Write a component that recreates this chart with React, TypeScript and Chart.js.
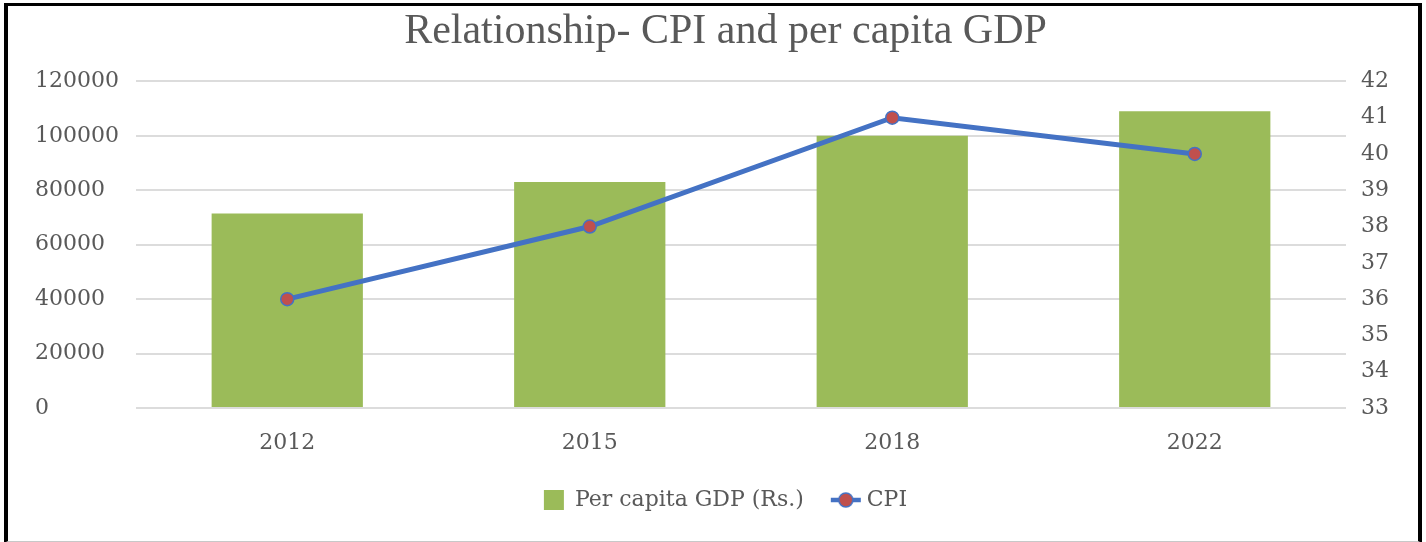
import React, { useEffect, useRef } from "react";
import { Chart, registerables } from "chart.js";

Chart.register(...registerables);

const categories = ["2012", "2015", "2018", "2022"];
const gdpValues = [71500, 83000, 100000, 109000];
const cpiValues = [36, 38, 41, 40];
const gdpAxis = { min: 0, max: 120000, step: 20000 };
const cpiAxis = { min: 33, max: 42, step: 1 };

const titleText = "Relationship- CPI and per capita GDP";
const gdpLabel = "Per capita GDP (Rs.)";
const cpiLabel = "CPI";

const TEXT = "#595959";
const GRID = "#dcdcdc";
const BAR = "#9BBB59";
const LINE = "#4472C4";
const POINT = "#C0504D";
const TICK_FONT = { family: "'DejaVu Serif', serif", size: 22 };

function makeLineMarker(): HTMLCanvasElement {
  const c = document.createElement("canvas");
  c.width = 32;
  c.height = 18;
  const ctx = c.getContext("2d")!;
  ctx.strokeStyle = LINE;
  ctx.lineWidth = 4.5;
  ctx.beginPath();
  ctx.moveTo(1, 9);
  ctx.lineTo(31, 9);
  ctx.stroke();
  ctx.beginPath();
  ctx.arc(16, 9, 7, 0, Math.PI * 2);
  ctx.fillStyle = POINT;
  ctx.fill();
  ctx.lineWidth = 1.5;
  ctx.strokeStyle = LINE;
  ctx.stroke();
  return c;
}

export default function App() {
  const ref = useRef<HTMLCanvasElement | null>(null);

  useEffect(() => {
    document.body.style.margin = "0";
    const canvas = ref.current!;
    const marker = makeLineMarker();
    const chart = new Chart(canvas, {
      data: {
        labels: categories,
        datasets: [
          {
            type: "bar",
            label: gdpLabel,
            data: gdpValues,
            backgroundColor: BAR,
            borderWidth: 0,
            barPercentage: 0.5,
            categoryPercentage: 1.0,
            yAxisID: "y",
            order: 2,
          },
          {
            type: "line",
            label: cpiLabel,
            data: cpiValues,
            borderColor: LINE,
            borderWidth: 5,
            pointRadius: 6.5,
            pointBackgroundColor: POINT,
            pointBorderColor: LINE,
            pointBorderWidth: 1.5,
            tension: 0,
            yAxisID: "y1",
            order: 1,
          },
        ],
      },
      options: {
        responsive: false,
        animation: false,
        layout: { padding: { left: 35, right: 10, top: 0, bottom: 21 } },
        plugins: {
          tooltip: { enabled: false },
          title: {
            display: true,
            text: titleText,
            color: TEXT,
            font: { family: "'Liberation Serif', serif", size: 42, weight: "normal" },
            padding: { top: 7, bottom: 24 },
          },
          legend: {
            position: "bottom",
            labels: {
              color: TEXT,
              font: { family: "'DejaVu Serif', serif", size: 22 },
              usePointStyle: true,
              boxWidth: 20,
              boxHeight: 20,
              padding: 32,
              generateLabels: (ch: any) => {
                const items = Chart.defaults.plugins.legend.labels.generateLabels(ch);
                items.sort((a: any, b: any) => a.datasetIndex - b.datasetIndex);
                items.forEach((it: any) => {
                  if (it.datasetIndex === 0) {
                    it.pointStyle = "rect";
                    it.fillStyle = BAR;
                    it.strokeStyle = BAR;
                    it.lineWidth = 0;
                  } else {
                    it.pointStyle = marker;
                  }
                });
                return items;
              },
            },
          },
        },
        scales: {
          x: {
            grid: { display: false, drawTicks: false },
            border: { display: false },
            ticks: { color: TEXT, font: TICK_FONT, padding: 22 },
            afterFit: (s: any) => {
              s.height = 49;
            },
          },
          y: {
            position: "left",
            min: gdpAxis.min,
            max: gdpAxis.max,
            border: { display: false },
            grid: { color: GRID, lineWidth: 2, drawTicks: false },
            ticks: {
              stepSize: gdpAxis.step,
              color: TEXT,
              font: TICK_FONT,
              crossAlign: "far",
              padding: 12,
              callback: (v: any) => String(v),
            },
            afterFit: (s: any) => {
              s.width = 101;
            },
          },
          y1: {
            position: "right",
            min: cpiAxis.min,
            max: cpiAxis.max,
            border: { display: false },
            grid: { display: false, drawTicks: false },
            ticks: {
              stepSize: cpiAxis.step,
              color: TEXT,
              font: TICK_FONT,
              padding: 15,
              callback: (v: any) => String(v),
            },
            afterFit: (s: any) => {
              s.width = 70;
            },
          },
        },
      },
    });
    return () => chart.destroy();
  }, []);

  return (
    <div style={{ position: "absolute", left: 0, top: 0, width: 1426, height: 542, background: "#fff" }}>
      <canvas ref={ref} width={1426} height={542} style={{ position: "absolute", left: 0, top: 0 }} />
      <div
        style={{
          position: "absolute",
          left: 4,
          top: 3,
          width: 1410,
          height: 535,
          borderLeft: "4px solid #000",
          borderTop: "3px solid #000",
          borderRight: "4px solid #000",
          borderBottom: "2px solid #c8c8c8",
          pointerEvents: "none",
        }}
      />
    </div>
  );
}
